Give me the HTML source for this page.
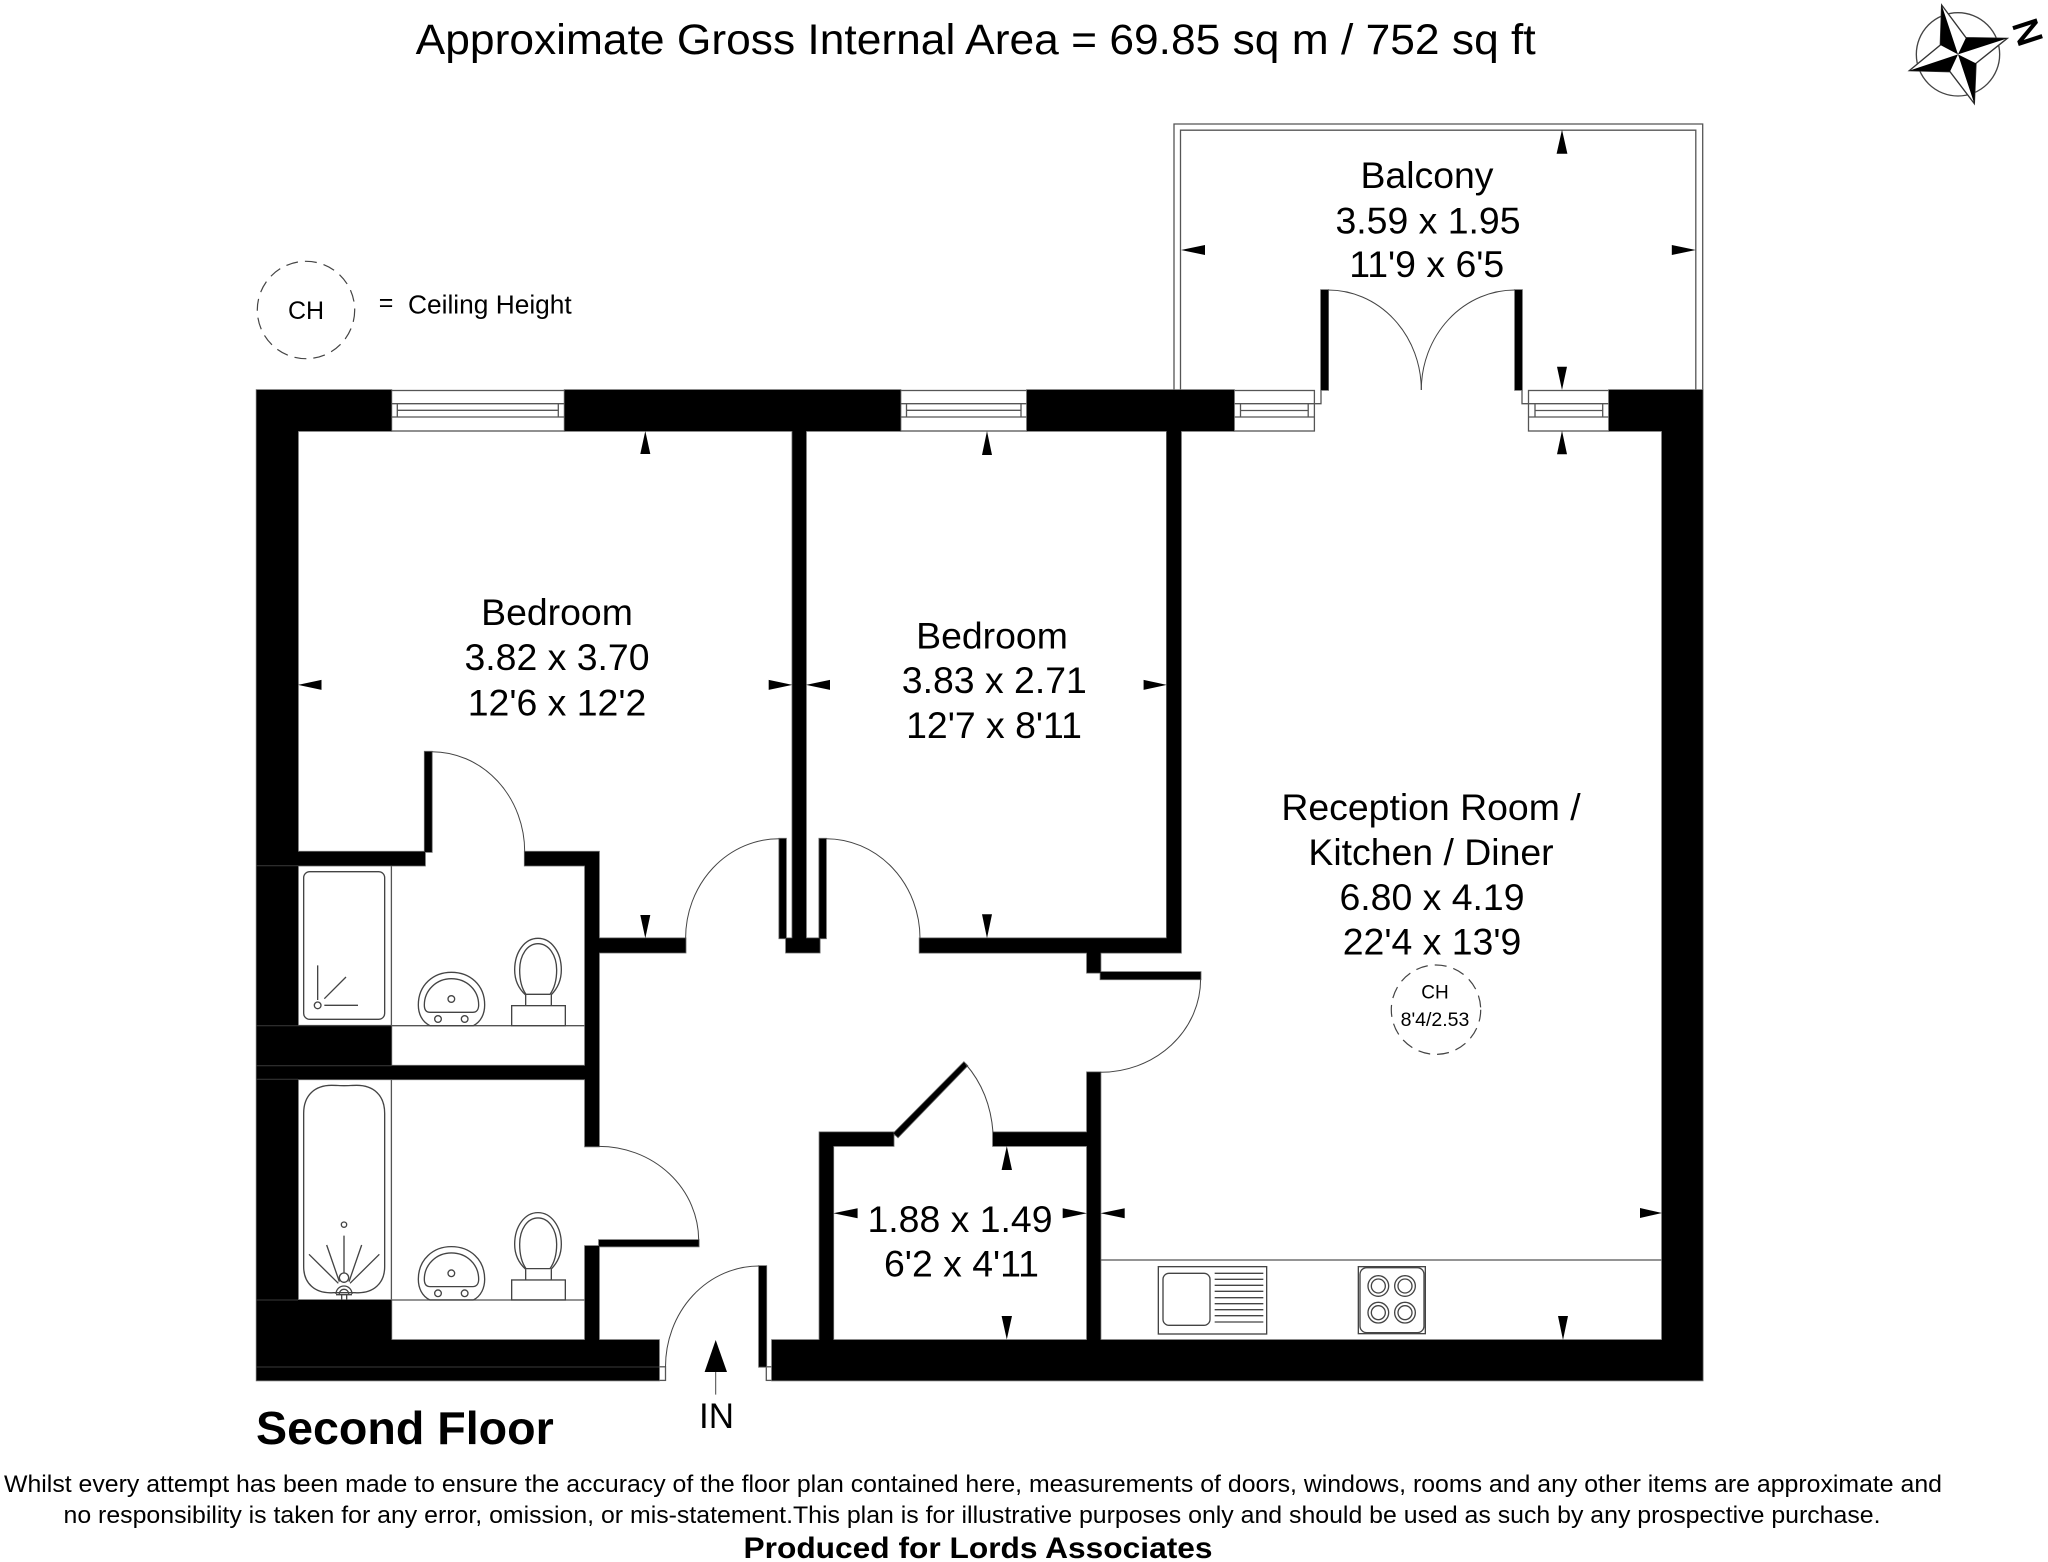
<!DOCTYPE html>
<html><head><meta charset="utf-8">
<style>
html,body{margin:0;padding:0;background:#fff}
svg{display:block}
text{font-family:"Liberation Sans",Arial,sans-serif;fill:#000}
.l{font-size:37.4px;text-anchor:middle}
.g{fill:none;stroke:#555;stroke-width:1.3}
.h{fill:none;stroke:#444;stroke-width:1}
.f{fill:none;stroke:#444;stroke-width:4}
</style></head><body>
<svg width="2048" height="1562" viewBox="0 0 2048 1562" xmlns="http://www.w3.org/2000/svg">
<rect width="2048" height="1562" fill="#fff"/>

<text x="975.7" y="54" font-size="43" text-anchor="middle" textLength="1120" lengthAdjust="spacingAndGlyphs">Approximate Gross Internal Area = 69.85 sq m / 752 sq ft</text>

<!-- compass -->
<g transform="translate(1880,0) scale(.3333)">
<circle cx="234" cy="163" r="125" fill="none" stroke="#444" stroke-width="4"/>
<polygon points="185,15 258,113 382,115 288,190 283,311 210,215 88,212 181,135" fill="#fff" stroke="#333" stroke-width="4"/>
<polygon points="185,15 234,163 181,135" fill="#000"/>
<polygon points="382,115 258,113 234,163" fill="#000"/>
<polygon points="283,311 288,190 234,163" fill="#000"/>
<polygon points="88,212 210,215 234,163" fill="#000"/>
</g>
<text transform="translate(2028,32) rotate(72)" x="0" y="12.5" font-size="35" text-anchor="middle" stroke="#000" stroke-width="1.3">N</text>

<!-- balcony -->
<path d="M1174,390V124H1702.7V390M1180.5,390V130.2H1695.8V390" class="g"/>

<!-- CH legend -->
<circle cx="306" cy="310" r="48.7" fill="none" stroke="#444" stroke-width="1.2" stroke-dasharray="12 7"/>
<text x="306" y="319" font-size="25" text-anchor="middle">CH</text>
<text x="386" y="311" font-size="25" text-anchor="middle">=</text>
<text x="408" y="313.3" font-size="26.3">Ceiling Height</text>

<!-- windows -->
<g class="g" fill="#fff">
<rect x="391.4" y="390.5" width="173.2" height="40.5" fill="#fff"/>
<path d="M391.4,403.7H564.6M391.4,417H564.6M397.3,403.7V417M558.3,403.7V417M397.3,410.3H558.3" fill="none"/>
<rect x="900.5" y="390.5" width="126.5" height="40.5" fill="#fff"/>
<path d="M900.5,403.7H1027M900.5,417H1027M906.5,403.7V417M1021,403.7V417M906.5,410.3H1021" fill="none"/>
<rect x="1234" y="390.5" width="80.4" height="40.5" fill="#fff"/>
<path d="M1234,403.7H1321V390.5M1234,417H1314.4M1240.5,403.7V417M1308.2,403.7V417M1240.5,410.5H1308.2" fill="none"/>
<rect x="1528.5" y="390.5" width="80.5" height="40.5" fill="#fff"/>
<path d="M1522,390.5V403.7H1609M1528.5,417H1609M1535,403.7V417M1602.7,403.7V417M1535,410.5H1602.7" fill="none"/>
</g>

<!-- fixture lines -->
<path d="M391.4,866V1025.7H585M391.4,1079V1300H585M1100.5,1260H1662" class="g"/>
<rect x="659" y="1366.8" width="6.5" height="13.6" class="g"/>
<rect x="766.3" y="1366.8" width="5.7" height="13.6" class="g"/>

<!-- walls -->
<path fill="#000" stroke="#666" stroke-width="1.6" style="paint-order:stroke fill" d="
M256.6,390H391.4V431H256.6Z
M564.6,390H900.5V431H564.6Z
M1027,390H1234V431H1027Z
M1609,390H1702.7V431H1609Z
M256.6,431H298V1380.4H256.6Z
M298,1025.7H391.4V1065.7H298Z
M298,1065.7H599V1079.3H298Z
M298,1300H391.4V1340H298Z
M256.6,1340H659V1380.4H256.6Z
M772,1340H1702.7V1380.4H772Z
M1662,430.7H1702.7V1340H1662Z
M298,851.7H425V865.6H298Z
M424.7,751.7H431.8V852H424.7Z
M524.7,851.7H599V865.6H524.7Z
M585,865.6H599V1146.4H585Z
M599,938.3H685.6V952.6H599Z
M585,1246H599V1340H585Z
M599,1240H698.7V1246.4H599Z
M792.4,431H806V938.3H792.4Z
M779.3,838.7H786V938.3H779.3Z
M819.3,838.7H826V938.3H819.3Z
M786,938.3H819.7V952.6H786Z
M919.6,938.3H1181V952.7H919.6Z
M1166.8,431H1181V952.7H1166.8Z
M1087,952.7H1100.5V972.7H1087Z
M1100.5,972H1200.6V979.3H1100.5Z
M1087,1072.3H1100.5V1340H1087Z
M993,1132.3H1100.5V1146H993Z
M819.5,1132.3H893.6V1146H819.5Z
M819.5,1146H833.3V1340H819.5Z
M893.6,1133.3L898,1137.3L967.3,1065.7L963.9,1062.3Z
M759,1266H766.3V1366.8H759Z
M1321,290H1328.2V390H1321Z
M1515,290H1522V390H1515Z
"/>
<!-- faint seams inside walls -->
<path d="M256.6,865.7H298M256.6,1025.7H391.4M256.6,1065.7H391.4M256.6,1079.3H298M256.6,1300H298M256.6,1367H659" fill="none" stroke="#3a3a3a" stroke-width="1"/>

<!-- door arcs -->
<g class="h">
<path d="M431.8,751.7A93,100 0 0 1 524.7,851.7"/>
<path d="M685.6,938.3A93.7,99.6 0 0 1 779.3,838.7"/>
<path d="M826,838.7A94,99.6 0 0 1 920,938.3"/>
<path d="M599,1146.4A99.7,94 0 0 1 698.7,1240"/>
<path d="M665.5,1366.8A93.5,100.8 0 0 1 759,1266"/>
<path d="M1200.6,979.3A100,93 0 0 1 1100.5,1072.3"/>
<path d="M965.6,1064Q990,1092 993,1132.3"/>
<path d="M1328,290A93.3,100 0 0 1 1421.3,390"/>
<path d="M1515,290A93.7,100 0 0 0 1421.3,390"/>
</g>

<!-- arrows -->
<g fill="#000">
<polygon points="645.3,431 640.3,454 650.3,454"/>
<polygon points="987,431 982,455 992,455"/>
<polygon points="1562,430.7 1557,454.3 1567,454.3"/>
<polygon points="1562,129.7 1556.6,153.7 1567.4,153.7"/>
<polygon points="1006.8,1146 1001.6,1170 1012,1170"/>
<polygon points="645.3,938.3 640.3,915 650.3,915"/>
<polygon points="987,938.3 982,914.3 992,914.3"/>
<polygon points="1006.8,1339.5 1001.6,1316 1012,1316"/>
<polygon points="1563,1340 1558,1316 1568,1316"/>
<polygon points="1562,390 1557,366.7 1567,366.7"/>
<polygon points="298,684.9 321.5,679.9 321.5,689.9"/>
<polygon points="806,684.9 830,679.9 830,689.9"/>
<polygon points="833.3,1213.3 857.6,1208.3 857.6,1218.3"/>
<polygon points="1100.5,1213.3 1124.7,1208.3 1124.7,1218.3"/>
<polygon points="1181,250 1205,245 1205,255"/>
<polygon points="792.4,684.9 768.7,679.9 768.7,689.9"/>
<polygon points="1166.8,684.9 1143.6,679.9 1143.6,689.9"/>
<polygon points="1087,1213.3 1062.7,1208.3 1062.7,1218.3"/>
<polygon points="1662,1213 1640,1208 1640,1218"/>
<polygon points="1695.8,250 1671.8,245 1671.8,255"/>
<polygon points="715.7,1340 704.6,1372 727,1372"/>
</g>
<path d="M715.7,1372V1394.6" class="h"/>

<!-- shower room / bathroom fixtures, drawn in 3x coords -->
<g transform="translate(280,850) scale(.33333)" class="f">
<rect x="71" y="65" width="243" height="443" rx="18"/>
<path d="M113,346V450M133,466H234M133,446L198,381"/>
<circle cx="113" cy="466" r="10"/>
<path d="M450,527C425,515 415,490 415,465C415,405 460,367 514,367C570,367 614,405 614,465C614,490 604,515 580,527Z"/>
<path d="M450,487C438,487 433,478 433,465C433,420 470,386 514,386C560,386 596,420 596,465C596,478 590,487 578,487Z"/>
<circle cx="514" cy="447" r="10"/><circle cx="474" cy="507" r="10"/><circle cx="554" cy="507" r="10"/>
<path d="M737,435C715,415 704,390 704,360C704,305 735,265 774,265C813,265 844,305 844,360C844,390 833,415 813,435"/>
<path d="M738,433C725,415 719,390 719,360C719,315 742,281 774,281C806,281 830,315 830,360C830,390 823,415 810,433Z"/>
<path d="M737,435V467M814,435V467"/>
<rect x="695" y="467" width="161" height="60"/>
</g>
<g transform="translate(280,1124.3) scale(.33333)" class="f">
<path d="M450,527C425,515 415,490 415,465C415,405 460,367 514,367C570,367 614,405 614,465C614,490 604,515 580,527Z"/>
<path d="M450,487C438,487 433,478 433,465C433,420 470,386 514,386C560,386 596,420 596,465C596,478 590,487 578,487Z"/>
<circle cx="514" cy="447" r="10"/><circle cx="474" cy="507" r="10"/><circle cx="554" cy="507" r="10"/>
<path d="M737,435C715,415 704,390 704,360C704,305 735,265 774,265C813,265 844,305 844,360C844,390 833,415 813,435"/>
<path d="M738,433C725,415 719,390 719,360C719,315 742,281 774,281C806,281 830,315 830,360C830,390 823,415 810,433Z"/>
<path d="M737,435V467M814,435V467"/>
<rect x="695" y="467" width="161" height="60"/>
</g>
<g transform="translate(280,1070) scale(.33333)" class="f">
<path d="M71,130C71,75 105,46 155,46C168,46 180,47 192,47C205,47 218,46 230,46C280,46 314,75 314,130V590C314,640 280,672 225,668H160C105,672 71,640 71,590Z"/>
<circle cx="192" cy="464" r="8"/>
<path d="M192,497V610M140,525L178,635M245,525L207,635M87,553L175,640M298,553L210,640"/>
<circle cx="192" cy="623" r="14"/>
<path d="M168,672A24,24 0 0 1 216,672M178,672A14,14 0 0 1 206,672M168,674H216M185,674V690M200,674V690"/>
</g>

<!-- kitchen -->
<g transform="translate(1130,1240) scale(.33333)" class="f">
<rect x="85" y="80" width="325" height="202"/>
<rect x="99" y="100" width="141" height="156" rx="18"/>
<path d="M254,100H400M254,118H400M254,136H400M254,154H400M254,173H400M254,191H400M254,209H400M254,227H400M254,246H400"/>
<rect x="685" y="80" width="201" height="201"/>
<rect x="690" y="83" width="192" height="195" rx="20"/>
<circle cx="745" cy="138" r="31"/><circle cx="745" cy="138" r="21"/>
<circle cx="825" cy="138" r="31"/><circle cx="825" cy="138" r="21"/>
<circle cx="745" cy="218" r="31"/><circle cx="745" cy="218" r="21"/>
<circle cx="825" cy="218" r="31"/><circle cx="825" cy="218" r="21"/>
</g>

<!-- room labels -->
<text class="l" x="1427" y="188">Balcony</text>
<text class="l" x="1428" y="233.5">3.59 x 1.95</text>
<text class="l" x="1426.7" y="277">11'9 x 6'5</text>

<text class="l" x="557" y="625">Bedroom</text>
<text class="l" x="557" y="670">3.82 x 3.70</text>
<text class="l" x="557" y="715.3">12'6 x 12'2</text>

<text class="l" x="992" y="648.3">Bedroom</text>
<text class="l" x="994.3" y="692.8">3.83 x 2.71</text>
<text class="l" x="994" y="737.8">12'7 x 8'11</text>

<text class="l" x="1431" y="819.8">Reception Room /</text>
<text class="l" x="1431" y="864.8">Kitchen / Diner</text>
<text class="l" x="1432" y="909.8">6.80 x 4.19</text>
<text class="l" x="1432" y="954.3">22'4 x 13'9</text>

<text class="l" x="960" y="1232">1.88 x 1.49</text>
<text class="l" x="961.5" y="1276.7">6'2 x 4'11</text>

<circle cx="1436" cy="1009.7" r="44.7" fill="none" stroke="#444" stroke-width="1.2" stroke-dasharray="12 7"/>
<text x="1435" y="998.7" font-size="19" text-anchor="middle">CH</text>
<text x="1435" y="1026" font-size="19.5" text-anchor="middle">8'4/2.53</text>

<text x="256" y="1444" font-size="46.6" font-weight="700">Second Floor</text>
<text x="716.5" y="1428" font-size="35" text-anchor="middle">IN</text>

<text x="973" y="1492" font-size="24.5" text-anchor="middle" textLength="1938" lengthAdjust="spacingAndGlyphs">Whilst every attempt has been made to ensure the accuracy of the floor plan contained here, measurements of doors, windows, rooms and any other items are approximate and</text>
<text x="972" y="1523" font-size="24.5" text-anchor="middle" textLength="1817" lengthAdjust="spacingAndGlyphs">no responsibility is taken for any error, omission, or mis-statement.This plan is for illustrative purposes only and should be used as such by any prospective purchase.</text>
<text x="978" y="1558" font-size="30" font-weight="700" text-anchor="middle" textLength="469" lengthAdjust="spacingAndGlyphs">Produced for Lords Associates</text>
</svg>
</body></html>
